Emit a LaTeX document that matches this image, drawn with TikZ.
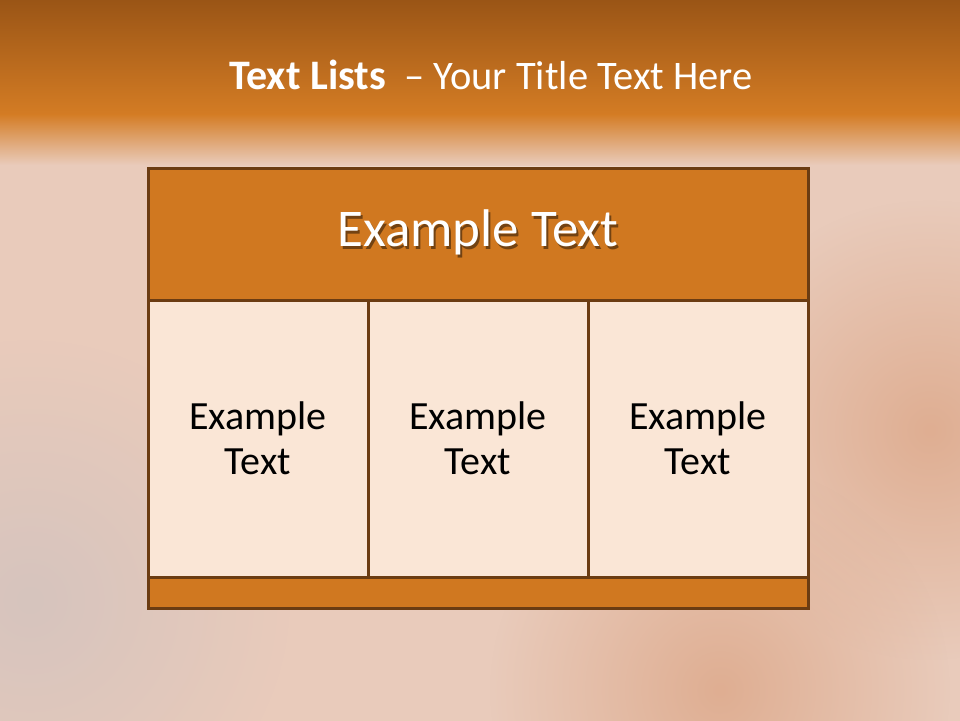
\documentclass[tikz,border=0pt]{standalone}
\usepackage{fontspec}
\setmainfont{Carlito}
\usetikzlibrary{fadings}
\definecolor{bgbase}{HTML}{E9CBBB}
\definecolor{bglight}{HTML}{F4DED0}
\definecolor{bgdark}{HTML}{DFAE92}
\definecolor{bggrey}{HTML}{D6C4BE}
\definecolor{topdark}{HTML}{9A5516}
\definecolor{toporange}{HTML}{D47C24}
\definecolor{boxorange}{HTML}{D07820}
\definecolor{boxborder}{HTML}{6B3C12}
\definecolor{cellfill}{HTML}{FAE6D6}
\colorlet{txtshadow}{boxorange!55!black}
\tikzfading[name=softspot, inner color=transparent!0, outer color=transparent!100]
\tikzset{
  panel/.style={draw=boxborder, line width=3pt, inner sep=0pt, anchor=center},
  hdrbox/.style={panel, fill=boxorange},
  cellbox/.style={panel, fill=cellfill},
  hdrtext/.style={text=white, font=\fontsize{53}{62}\selectfont},
  celltext/.style={text=black, align=center, font=\fontsize{40}{45}\selectfont},
  spot/.style={path fading=softspot}
}
\newcommand{\shadowtext}[1]{\makebox[0pt][l]{\hspace{2pt}\raisebox{-2.5pt}{\textcolor{txtshadow}{#1}}}#1}
\begin{document}
\begin{tikzpicture}[x=1pt,y=-1pt]
\useasboundingbox (0,0) rectangle (960,720);
% background
\begin{scope}
\clip (0,0) rectangle (960,720);
\fill[bgbase] (-10,-10) rectangle (970,730);
\fill[bglight, spot] (480,250) circle (330pt);
\fill[bggrey, spot] (30,600) circle (260pt);
\fill[bgdark, spot] (930,430) circle (230pt);
\fill[bgdark, spot] (720,690) circle (230pt);
\shade[top color=topdark, bottom color=toporange] (0,0) rectangle (960,115);
\shade[top color=toporange, bottom color=bgbase] (0,114) rectangle (960,165);
\end{scope}
% title
\node[text=white, font=\fontsize{40.5}{48}\selectfont] (title) at (491,75)
  {{\bfseries\fontsize{42}{48}\selectfont Text Lists}\ \ – Your Title Text Here};
% table
\node[hdrbox, minimum width=660pt, minimum height=132pt] (header) at (478,234) {};
\node[cellbox, minimum width=220pt, minimum height=277pt] (c1) at (258,438.5) {};
\node[cellbox, minimum width=220pt, minimum height=277pt] (c2) at (478,438.5) {};
\node[cellbox, minimum width=220pt, minimum height=277pt] (c3) at (698,438.5) {};
\node[hdrbox, minimum width=660pt, minimum height=31pt] (footer) at (478,592.5) {};
\node[hdrtext] (htext) at (header.center) {\shadowtext{Example Text}};
\node[celltext] (t1) at (c1.center) {Example\\Text};
\node[celltext] (t2) at (c2.center) {Example\\Text};
\node[celltext] (t3) at (c3.center) {Example\\Text};
\end{tikzpicture}
\end{document}
